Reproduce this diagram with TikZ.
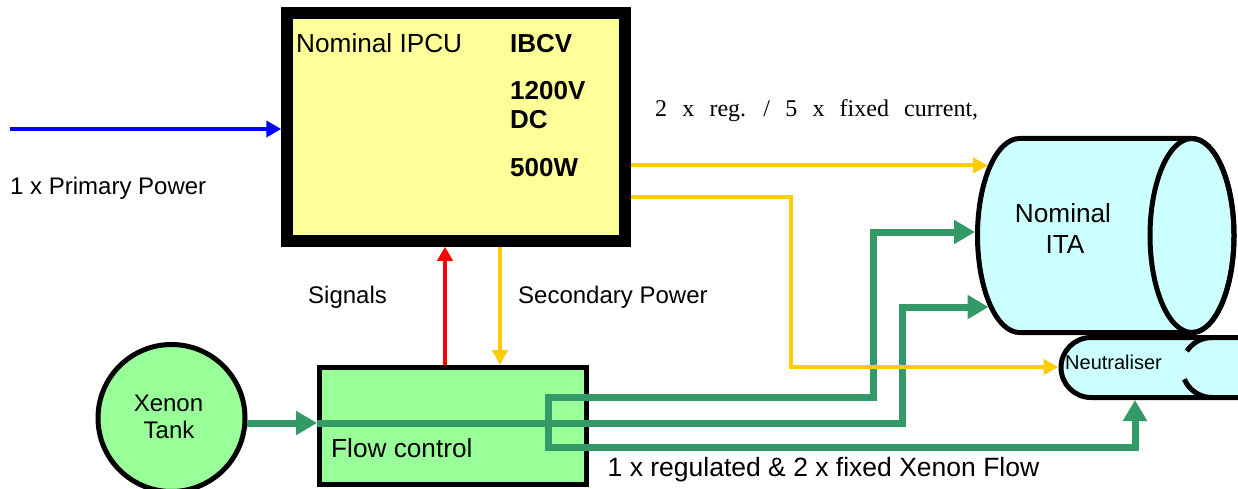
\documentclass[tikz,border=0pt]{standalone}
\usepackage{fontspec}
\setmainfont{Liberation Sans}
\newfontfamily\seriffont{Liberation Serif}
\usetikzlibrary{arrows.meta}
\definecolor{ipcuyellow}{HTML}{FFFF99}
\definecolor{flowgreen}{HTML}{99FF99}
\definecolor{itacyan}{HTML}{CCFFFF}
\definecolor{pipegreen}{HTML}{339966}
\definecolor{powyellow}{HTML}{FFCC00}
\begin{document}
\begin{tikzpicture}[x=1pt,y=-1pt,
  lbl/.style={inner sep=0pt,anchor=base west,font=\fontsize{24}{28}\selectfont},
  lblbig/.style={lbl,font=\fontsize{26.2}{30}\selectfont},
  lblb/.style={lbl,font=\fontsize{26}{30}\selectfont\bfseries},
  pipe/.style={pipegreen,line width=7pt},
  pipetip/.style={-{Triangle[length=21pt,width=23pt]}},
  power/.style={powyellow,line width=4pt,-{Triangle[length=15pt,width=15pt]}},
  outline/.style={draw=black,line width=5pt},
 ]
\useasboundingbox (0,0) rectangle (1238,489);

% ---- main blocks ----
\node[draw=black,line width=11.5pt,fill=ipcuyellow,minimum width=338pt,minimum height=228pt,inner sep=0pt] (ipcu) at (456,127) {};
\node[outline,fill=flowgreen,minimum width=267pt,minimum height=117pt,inner sep=0pt] (flow) at (453,426) {};
\node[outline,circle,fill=flowgreen,minimum size=147pt,inner sep=0pt] (tank) at (171.5,418) {};

% ---- ITA cylinder ----
\filldraw[fill=itacyan,outline] (1019.5,138.5) -- (1192,138.5)
  arc[start angle=-90,end angle=90,x radius=42,y radius=97]
  -- (1019.5,332.5)
  arc[start angle=90,end angle=270,x radius=42,y radius=97] -- cycle;
\draw[outline] (1192,235.5) ellipse[x radius=42,y radius=97];

% ---- Neutraliser ----
\filldraw[fill=itacyan,outline] (1260,337.5) -- (1091,337.5)
  arc[start angle=270,end angle=90,x radius=30,y radius=30]
  -- (1260,397.5) -- cycle;
\draw[outline] (1212,337.5) arc[start angle=270,end angle=213,x radius=30,y radius=30];
\draw[outline] (1212,397.5) arc[start angle=90,end angle=157,x radius=30,y radius=30];

% ---- connector end points ----
\coordinate (ppstart) at (10,129);
\coordinate (itaA) at (988,165.5);
\coordinate (itaB) at (975,232);
\coordinate (itaC) at (988.5,307);
\coordinate (neuA) at (1058.5,367);
\coordinate (neuB) at (1135,400);
\coordinate (ybend) at (791,197);
\coordinate (secx) at (500,0);
\coordinate (sigx) at (445,0);
\coordinate (tankout) at (247,423);
\coordinate (midbend) at (902,423);
\coordinate (j1) at (548,397);
\coordinate (j2) at (548,447);
\coordinate (topbend) at (873,397);
\coordinate (botbend) at (1135,447);

% ---- xenon pipes ----
\draw[pipe,pipetip] (tankout -| flow.west) -- (midbend) |- (itaC);
\draw[pipe,pipetip] (j2) -- (j1) -- (topbend) |- (itaB);
\draw[pipe,pipetip] (j1) -- (j2) -- (botbend) -- (neuB);
\draw[pipe,pipetip] (tankout) -- (tankout -| flow.west);

% ---- power and signals ----
\draw[blue,line width=4pt,-{Triangle[length=15pt,width=16pt]}] (ppstart) -- (ppstart -| ipcu.west);
\draw[power] (ipcu.east |- itaA) -- (itaA);
\draw[power] (ipcu.east |- ybend) -- (ybend) |- (neuA);
\draw[power] (secx |- ipcu.south) -- (secx |- flow.north);
\draw[red,line width=4.5pt,-{Triangle[length=14pt,width=15pt]}] (sigx |- flow.north) -- (sigx |- ipcu.south);

% ---- texts ----
\node[lblbig] (tipcu) at (296,52.7) {Nominal IPCU};
\node[lblb] (tibcv) at (510,53) {IBCV};
\node[lblb] (tvolt) at (510,100) {1200V};
\node[lblb] (tdc) at (510,129) {DC};
\node[lblb] (tpow) at (510,177) {500W};
\node[lbl] (tpp) at (10,194) {1 x Primary Power};
\node[lbl] (tsig) at (308,303) {Signals};
\node[lbl] (tsec) at (518,303) {Secondary Power};
\node[lblbig] (tflow) at (331,457) {Flow control};
\node[lbl,font=\fontsize{26.5}{30}\selectfont] (txf) at (607.5,476) {1 x regulated \& 2 x fixed Xenon Flow};
\node[lbl,font=\fontsize{20}{24}\selectfont] (tneu) at (1065,369) {Neutraliser};
\node[lbl,anchor=base] (tx1) at (168.5,411) {Xenon};
\node[lbl,anchor=base] (tx2) at (169,438) {Tank};
\node[lblbig,anchor=base] (ti1) at (1063,222) {Nominal};
\node[lblbig,anchor=base] (ti2) at (1065,253) {ITA};
\node[lbl,font=\seriffont\fontsize{24}{28}\selectfont] (tcur) at (655,117) {\spaceskip=15.2pt\relax 2 x reg. / 5 x fixed current,};
\end{tikzpicture}
\end{document}
